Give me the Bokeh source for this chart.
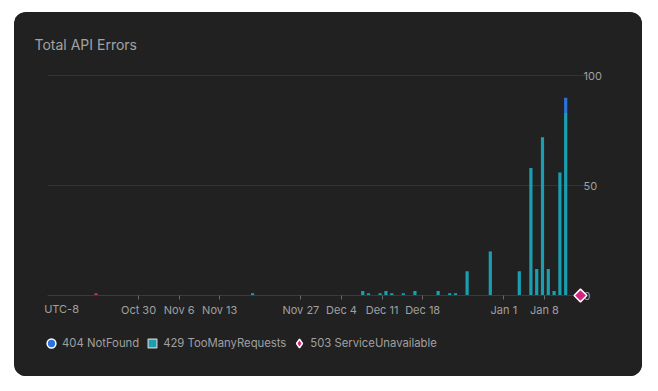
import math
import numpy as np
import pandas as pd
from bokeh.plotting import figure
from bokeh.models import (Range1d, FixedTicker, Legend, LegendItem, Spacer, LinearAxis)
from bokeh.layouts import column, row
from bokeh.embed import file_html
from bokeh.resources import INLINE

# ---------------- data ----------------
dates_429 = ["2023-11-19", "2023-12-08", "2023-12-09", "2023-12-11", "2023-12-12",
             "2023-12-13", "2023-12-15", "2023-12-17", "2023-12-21", "2023-12-23",
             "2023-12-24", "2023-12-26", "2023-12-30", "2024-01-04", "2024-01-06",
             "2024-01-07", "2024-01-08", "2024-01-09", "2024-01-10", "2024-01-11",
             "2024-01-12"]
vals_429 = [1, 2, 1, 1, 2, 1, 1, 2, 2, 1, 1, 11, 20, 11, 58, 12, 72, 12, 2, 56, 83]

dates_404 = ["2024-01-12"]
vals_404 = [7]

dates_503 = ["2023-10-23"]
vals_503 = [1]
last_503_date = "2024-01-14"
last_503_val = 0

tick_dates = ["2023-10-30", "2023-11-06", "2023-11-13", "2023-11-27", "2023-12-04",
              "2023-12-11", "2023-12-18", "2024-01-01", "2024-01-08"]
tick_labels = ["Oct 30", "Nov 6", "Nov 13", "Nov 27", "Dec 4", "Dec 11", "Dec 18",
               "Jan 1", "Jan 8"]
y_ticks = [0, 50, 100]
series_labels = ["404 NotFound", "429 TooManyRequests", "503 ServiceUnavailable"]

# ---------------- helpers ----------------
BASE = pd.Timestamp("2023-10-01")
TZ = 8 / 24.0  # UTC-8 display shift


def day(d):
    return (pd.Timestamp(d) - BASE).days


x429 = np.array([day(d) for d in dates_429], dtype=float)
y429 = np.array(vals_429, dtype=float)
x404 = np.array([day(d) for d in dates_404], dtype=float)
bottom404 = np.array([vals_429[dates_429.index(d)] for d in dates_404], dtype=float)
top404 = bottom404 + np.array(vals_404, dtype=float)
x503 = np.array([day(d) for d in dates_503], dtype=float)
y503 = np.array(vals_503, dtype=float)

tick_vals = [day(d) + TZ for d in tick_dates]
T8 = tick_vals[-1]
PXD = 5.8  # px per day (for placing the timezone caption)

TEAL = "#1a9fb1"
BLUE = "#2c72dd"
MAGENTA = "#d4237c"
CARD = "#212121"
PAGE = "#1b1b1b"
TEXT = "#a0a0a0"
FONT = "Inter"

X0, X1 = T8 - 85.7, T8 + 7.6
GRID_END = T8 + 5.4

p = figure(width=628, height=316, output_backend="svg", toolbar_location=None,
           x_range=Range1d(X0, X1), y_range=Range1d(0, 101),
           y_axis_location="right", min_border_left=33, min_border_right=54,
           min_border_top=61, min_border_bottom=33)
p.frame_align = False
p.background_fill_color = CARD
p.border_fill_color = CARD
p.outline_line_color = None

p.title.text = "Total API Errors"
p.title.align = "left"
p.title.offset = -13
p.title.standoff = 42
p.title.text_font = FONT
p.title.text_font_size = "14px"
p.title.text_font_style = "normal"
p.title.text_color = "#a3a3a3"

BW = 0.55
p.vbar(x=x429, top=y429, bottom=0, width=BW, fill_color=TEAL, line_color=None)
p.vbar(x=x404, top=top404, bottom=bottom404, width=BW, fill_color=BLUE, line_color=None)
p.vbar(x=x503, top=y503, bottom=0, width=BW, fill_color=MAGENTA, line_color=None)
p.scatter(x=[day(last_503_date) + 0.55], y=[last_503_val], marker="square",
          angle=math.pi / 4, size=9, fill_color=MAGENTA, line_color="white",
          line_width=1.5, level="overlay")

# axes
xa = p.xaxis[0]
xa.ticker = FixedTicker(ticks=tick_vals)
xa.major_label_overrides = {v: l for v, l in zip(tick_vals, tick_labels)}
xa.bounds = (X0, GRID_END)
xa.axis_line_color = "#3a3a3a"
xa.major_tick_line_color = "#6a6a6a"
xa.major_tick_out = 4
xa.major_tick_in = 0
xa.minor_tick_line_color = None
xa.major_label_standoff = 3
xa.major_label_text_color = TEXT
xa.major_label_text_font = FONT
xa.major_label_text_font_size = "11px"

utc_pos = T8 - (544 - 61) / PXD
tz_axis = LinearAxis(ticker=FixedTicker(ticks=[utc_pos]),
                     major_label_overrides={utc_pos: "UTC-8"},
                     axis_line_color=None, major_tick_line_color=None,
                     minor_tick_line_color=None, major_tick_out=0, major_tick_in=0,
                     major_label_standoff=-18, major_label_text_color=TEXT,
                     major_label_text_font=FONT, major_label_text_font_size="11px")
p.add_layout(tz_axis, "below")

ya = p.yaxis[0]
ya.ticker = FixedTicker(ticks=y_ticks)
ya.axis_line_color = None
ya.major_tick_line_color = None
ya.minor_tick_line_color = None
ya.major_tick_out = 0
ya.major_tick_in = 0
ya.major_label_standoff = -5
ya.major_label_text_color = TEXT
ya.major_label_text_font = FONT
ya.major_label_text_font_size = "11px"

p.xgrid.visible = False
p.ygrid.grid_line_color = "#333333"
p.ygrid.ticker = FixedTicker(ticks=[50, 100])
p.ygrid.bounds = (X0, GRID_END)

# ---------------- legend strip ----------------
pl = figure(width=628, height=48, output_backend="svg", toolbar_location=None,
            x_range=Range1d(0, 1), y_range=Range1d(0, 1),
            x_axis_location=None, y_axis_location=None,
            min_border_left=0, min_border_right=0, min_border_top=0, min_border_bottom=0)
pl.frame_align = False
pl.background_fill_color = CARD
pl.border_fill_color = CARD
pl.outline_line_color = None
pl.grid.visible = False

# off-screen points: only their legend swatches are visible
l404 = pl.scatter(x=[-5], y=[-5], marker="circle", fill_color=BLUE, line_color="white",
                  line_width=1.5)
l429 = pl.scatter(x=[-5], y=[-5], marker="square", fill_color=TEAL, line_color="#cfcfcf",
                  line_width=1.2)
l503 = pl.scatter(x=[-5], y=[-5], marker="diamond", fill_color=MAGENTA,
                  line_color="white", line_width=1.5)

legend = Legend(items=[LegendItem(label=series_labels[0], renderers=[l404]),
                       LegendItem(label=series_labels[1], renderers=[l429]),
                       LegendItem(label=series_labels[2], renderers=[l503])],
                orientation="horizontal", location=(26, 22),
                glyph_width=22, glyph_height=22, label_height=22,
                label_standoff=-2, spacing=2, padding=0, margin=0,
                border_line_color=None, background_fill_alpha=0,
                label_text_color=TEXT, label_text_font=FONT,
                label_text_font_size="11.3px")
pl.add_layout(legend)

card = column(p, pl, spacing=0,
              styles={"border-radius": "12px", "overflow": "hidden",
                      "background-color": CARD})
layout = column(Spacer(height=12), row(Spacer(width=14), card))

html = file_html(layout, INLINE)
html = html.replace("<body>", '<body style="background-color:%s;">' % PAGE, 1)
open("out.html", "w").write(html)
